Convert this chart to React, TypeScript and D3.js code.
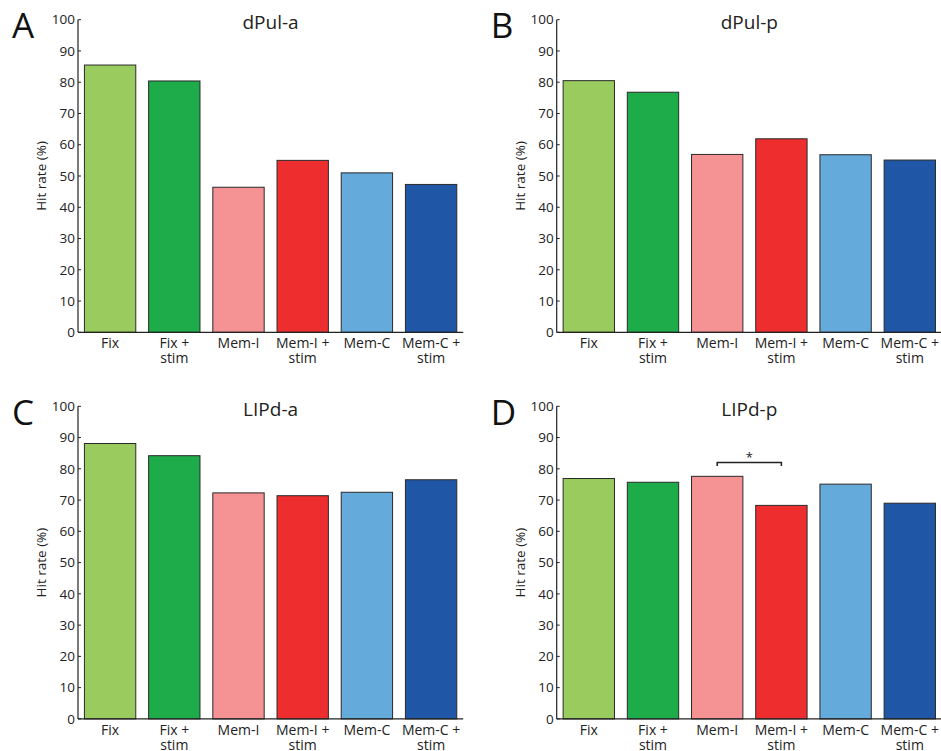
import React from 'react';
import * as d3 from 'd3';

// categorias e cores
const categories = ['Fix', 'Fix + stim', 'Mem-I', 'Mem-I + stim', 'Mem-C', 'Mem-C + stim'];
const labelLines = [['Fix'], ['Fix +', 'stim'], ['Mem-I'], ['Mem-I +', 'stim'], ['Mem-C'], ['Mem-C +', 'stim']];
const colors = ['#99cb5f', '#1eab4a', '#f49294', '#ee2d2f', '#64aadb', '#1f56a5'];

// valores
const dPulA = [85.5, 80.4, 46.4, 55.0, 51.0, 47.3];
const dPulP = [80.5, 76.8, 56.9, 61.9, 56.8, 55.1];
const lipdA = [88.1, 84.2, 72.3, 71.4, 72.5, 76.5];
const lipdP = [76.9, 75.7, 77.6, 68.3, 75.1, 69.0];

const yTicks = [0, 10, 20, 30, 40, 50, 60, 70, 80, 90, 100];

const panels = [
  { letter: 'A', title: 'dPul-a', values: dPulA, left: 78, top: 19.7, sig: null },
  { letter: 'B', title: 'dPul-p', values: dPulP, left: 556.7, top: 19.7, sig: null },
  { letter: 'C', title: 'LIPd-a', values: lipdA, left: 78, top: 406.3, sig: null },
  { letter: 'D', title: 'LIPd-p', values: lipdP, left: 556.7, top: 406.3, sig: { a: 2, b: 3, y: 82 } },
];

const font = '"Open Sans", sans-serif';

function Panel({ p }: { p: any }) {
  const innerWidth = 385.2;
  const innerHeight = 312.6;
  const xScale = d3.scaleBand().domain(categories).range([0, innerWidth]).paddingInner(0.2).paddingOuter(0.1);
  const yScale = d3.scaleLinear().domain([0, 100]).range([innerHeight, 0]);

  const bars = p.values.map((v: number, i: number) => (
    <rect
      key={categories[i]}
      x={xScale(categories[i])}
      y={yScale(v)}
      width={xScale.bandwidth()}
      height={innerHeight - yScale(v)}
      fill={colors[i]}
      stroke='#2a2a2a'
      strokeWidth={1}
    />
  ));

  const ticks = yTicks.map(t => (
    <g key={t} transform={`translate(0,${yScale(t)})`}>
      <line x1={0} x2={3} stroke='#222' />
      <text x={-3} dy='.35em' textAnchor='end' fontSize={13.5} fill='#222'>{t}</text>
    </g>
  ));

  // rotulos do eixo x, em duas linhas quando precisa
  const xLabels = labelLines.map((lines, i) => {
    const cx = (xScale(categories[i]) as number) + xScale.bandwidth() / 2;
    return lines.map((l, j) => (
      <text key={categories[i] + j} x={cx} y={innerHeight + 16 + j * 15} textAnchor='middle' fontSize={14} fill='#222'>{l}</text>
    ));
  });

  let sig = null;
  if (p.sig) {
    const xa = (xScale(categories[p.sig.a]) as number) + xScale.bandwidth() / 2;
    const xb = (xScale(categories[p.sig.b]) as number) + xScale.bandwidth() / 2;
    const ys = yScale(p.sig.y);
    sig = (
      <g>
        <path d={`M${xa},${ys + 3.5}V${ys}H${xb}V${ys + 3.5}`} fill='none' stroke='#222' strokeWidth={1.5} />
        <text x={(xa + xb) / 2} y={ys - 1} textAnchor='middle' fontSize={13} fill='#222'>*</text>
      </g>
    );
  }

  return (
    <g transform={`translate(${p.left},${p.top})`}>
      <text x={-66} y={18.5} fontSize={35} fill='#111'>{p.letter}</text>
      <text x={innerWidth / 2} y={9.5} textAnchor='middle' fontSize={19} fill='#222'>{p.title}</text>
      <text
        transform={`translate(-32,${innerHeight / 2}) rotate(-90)`}
        textAnchor='middle'
        fontSize={13.5}
        fill='#222'
      >Hit rate (%)</text>
      {bars}
      {sig}
      <line x1={0} x2={0} y1={0} y2={innerHeight} stroke='#222' strokeWidth={1.2} />
      <line x1={0} x2={innerWidth} y1={innerHeight} y2={innerHeight} stroke='#222' strokeWidth={1.2} />
      {ticks}
      {xLabels}
    </g>
  );
}

export default function App() {
  return (
    <svg width={941} height={751} style={{ position: 'absolute', left: 0, top: 0, fontFamily: font }}>
      <rect width={941} height={751} fill='#fff' />
      {panels.map(p => <Panel key={p.letter} p={p} />)}
    </svg>
  );
}
